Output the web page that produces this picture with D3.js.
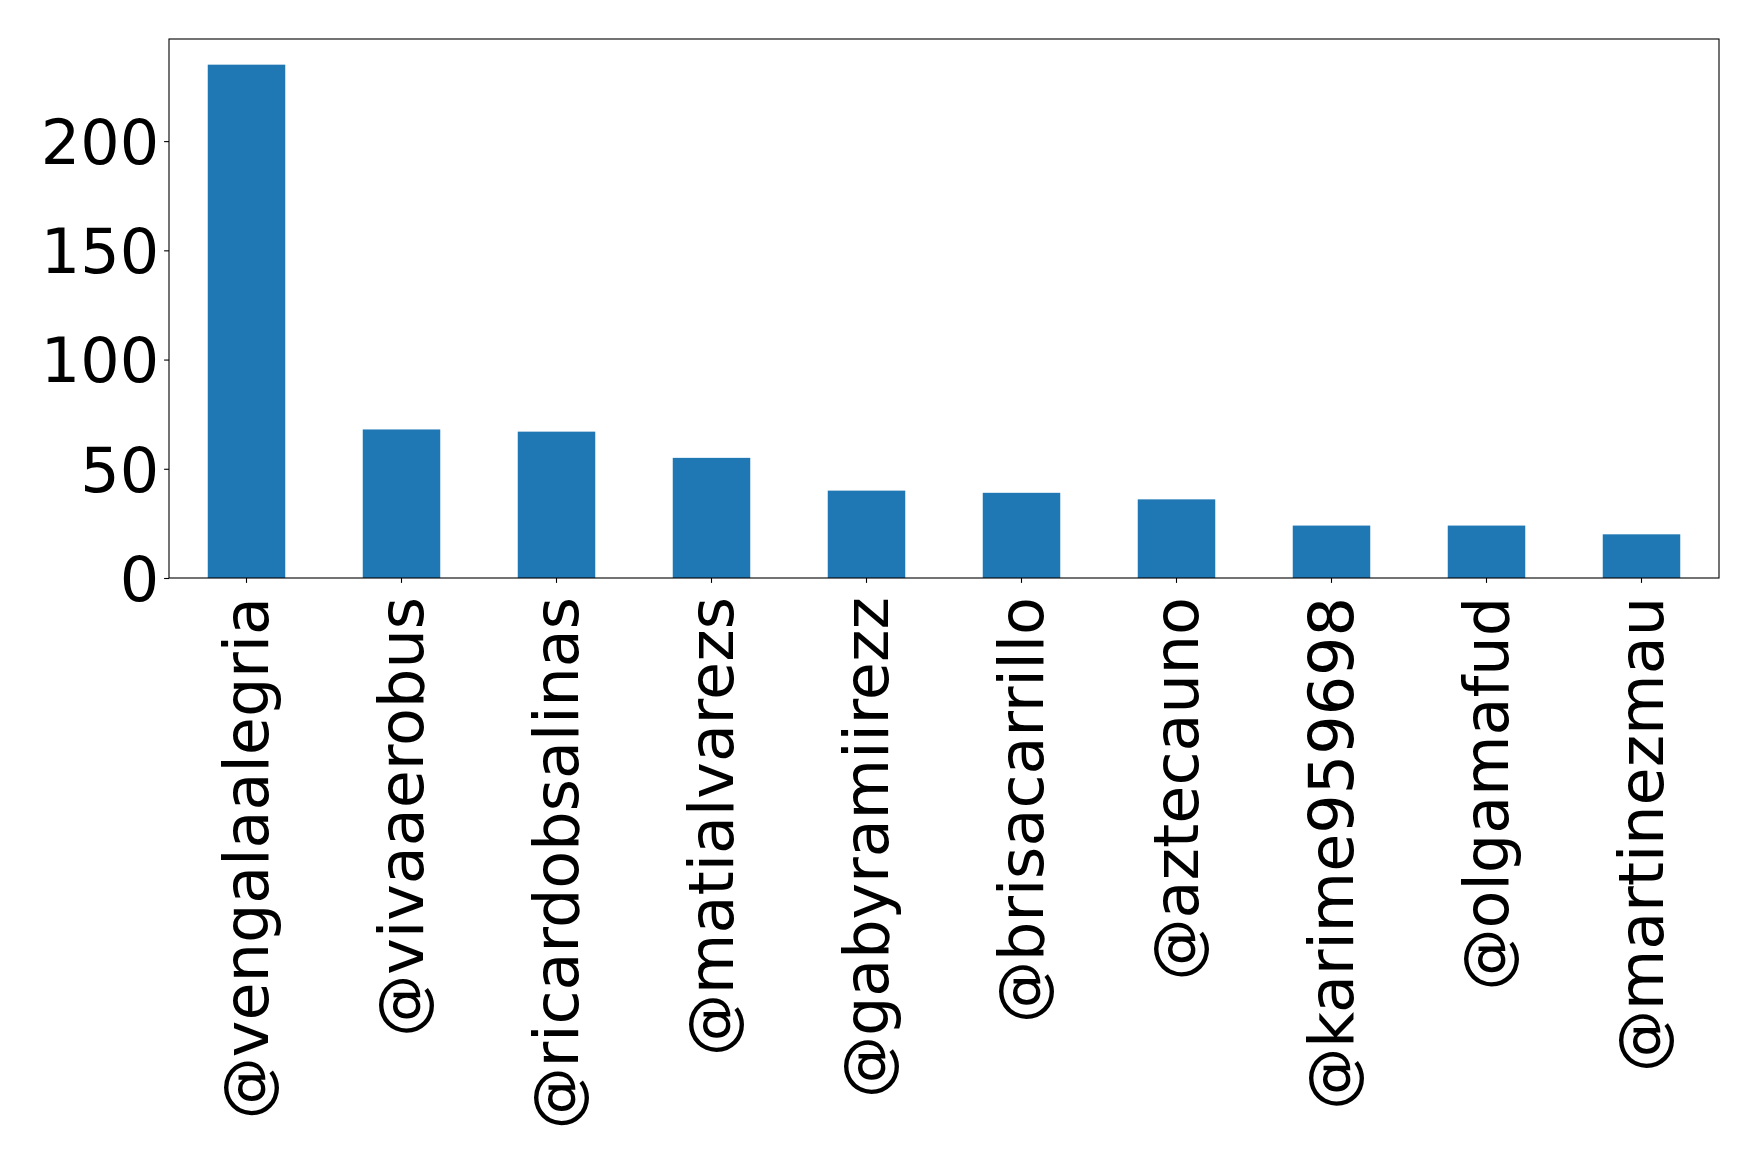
<!DOCTYPE html>
<html>
<head>
<meta charset="utf-8">
<script src="https://cdn.jsdelivr.net/npm/d3@7"></script>
<style>
    body { margin: 0; background: #fff; }
    text { font-family: "DejaVu Sans", sans-serif; fill: #000; }
</style>
</head>
<body>
<svg id="chart"></svg>
<script>
/**
 * Data.
 */
const users = ['@vengalaalegria', '@vivaaerobus', '@ricardobsalinas', '@matialvarezs', '@gabyramiirezz',
    '@brisacarrillo', '@aztecauno', '@karime959698', '@olgamafud', '@martinezmau'];
const counts = [235, 68, 67, 55, 40, 39, 36, 24, 24, 20];
const yTicks = [0, 50, 100, 150, 200];

/**
 * Visual configs.
 */
const visWidth = 1758, visHeight = 1164;
const margin = { top: 39, right: 39, bottom: 586, left: 169 };
const width = visWidth - margin.left - margin.right,
    height = visHeight - margin.top - margin.bottom;
const fontSize = 62, tickSize = 4.9, tickPad = 4.9,
    xLabelPad = 19; // rotated labels sit a bit lower than the plain pad

const svg = d3.select('#chart').attr('width', visWidth).attr('height', visHeight);
const g = svg.append('g').attr('transform', 'translate(' + margin.left + ',' + margin.top + ')');

// Band scale with 0.5 padding mimics matplotlib bar width 0.5
const xScale = d3.scaleBand().domain(users).range([0, width]).paddingInner(0.5).paddingOuter(0.25);
const yScale = d3.scaleLinear().domain([0, d3.max(counts) * 1.05]).range([height, 0]);

// Bars
g.selectAll('rect.bar')
    .data(users)
    .enter().append('rect')
    .attr('class', 'bar')
    .attr('x', d => xScale(d))
    .attr('y', (d, i) => yScale(counts[i]))
    .attr('width', xScale.bandwidth())
    .attr('height', (d, i) => height - yScale(counts[i]))
    .attr('fill', '#1f77b4');

// Y axis
const yAxis = d3.axisLeft(yScale).tickValues(yTicks).tickSize(tickSize).tickPadding(tickPad).tickFormat(d3.format('d'));
const yAxisG = g.append('g').call(yAxis);
yAxisG.select('.domain').remove();
yAxisG.selectAll('line').attr('stroke', '#000').attr('stroke-width', 1.1);
yAxisG.selectAll('text')
    .style('font-size', fontSize + 'px')
    .attr('dy', '0.36em');

// X axis
const xAxis = d3.axisBottom(xScale).tickSize(tickSize).tickPadding(tickPad);
const xAxisG = g.append('g').attr('transform', 'translate(0,' + height + ')').call(xAxis);
xAxisG.select('.domain').remove();
xAxisG.selectAll('line').attr('stroke', '#000').attr('stroke-width', 1.1);
xAxisG.selectAll('text')
    .style('font-size', fontSize + 'px')
    .attr('text-anchor', 'end')
    .attr('dy', null)
    .attr('dominant-baseline', 'central')
    .attr('transform', 'translate(0,' + xLabelPad + ') rotate(-90)')
    .attr('x', 0)
    .attr('y', 0);

// Frame
g.append('rect')
    .attr('width', width)
    .attr('height', height)
    .attr('fill', 'none')
    .attr('stroke', '#000')
    .attr('stroke-width', 1.1);
</script>
</body>
</html>
